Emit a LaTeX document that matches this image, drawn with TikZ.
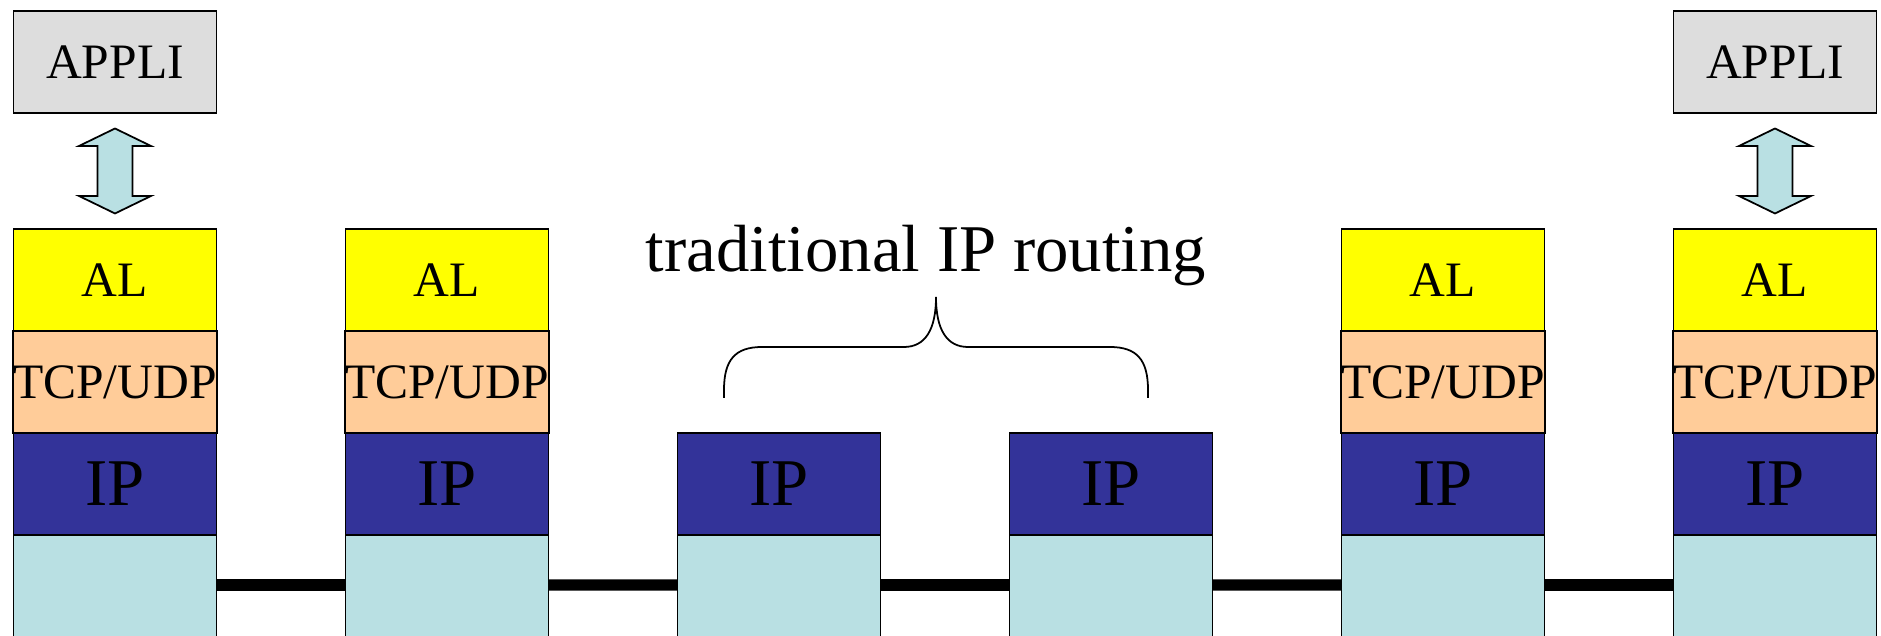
\documentclass[tikz,border=0pt]{standalone}
\usepackage{fontspec}
\setmainfont{Liberation Serif}
\usetikzlibrary{positioning,calc}
\definecolor{applicolor}{RGB}{221,221,221}
\definecolor{alcolor}{RGB}{255,255,0}
\definecolor{tcpcolor}{RGB}{255,204,153}
\definecolor{ipcolor}{RGB}{51,51,153}
\definecolor{phycolor}{RGB}{185,224,227}

\begin{document}
\begin{tikzpicture}[
    node distance=0cm,
    layer/.style={rectangle, draw, line width=0.5pt, minimum width=2.03cm, minimum height=1.02cm, inner sep=0pt, outer sep=0pt, text depth=0pt, font=\fontsize{14.1}{17}\selectfont},
    applibox/.style={layer, fill=applicolor},
    albox/.style={layer, fill=alcolor},
    tcpbox/.style={layer, fill=tcpcolor},
    ipbox/.style={layer, fill=ipcolor, font=\fontsize{19}{23}\selectfont},
    phybox/.style={layer, fill=phycolor, minimum height=1.2cm},
    wire/.style={line width=3.2pt},
    dblarrow/.style={draw, line width=0.5pt, fill=phycolor},
    brace/.style={line width=0.5pt}
]
\useasboundingbox (0,0) rectangle (18.81,-6.36);

% Applications
\node[applibox, anchor=north] (appli1) at (1.15,-0.11) {APPLI};
\node[applibox, anchor=north] (appli6) at (17.75,-0.11) {APPLI};

% End host (left)
\node[albox, anchor=north] (al1) at (1.15,-2.29) {AL};
\node[tcpbox, below=of al1] (tcp1) {TCP/UDP};
\node[ipbox, below=of tcp1] (ip1) {IP};
\node[phybox, below=of ip1] (phy1) {};

% Overlay node
\node[albox, anchor=north] (al2) at (4.47,-2.29) {AL};
\node[tcpbox, below=of al2] (tcp2) {TCP/UDP};
\node[ipbox, below=of tcp2] (ip2) {IP};
\node[phybox, below=of ip2] (phy2) {};

% Routers
\node[ipbox, anchor=north] (ip3) at (7.79,-4.33) {IP};
\node[phybox, below=of ip3] (phy3) {};
\node[ipbox, anchor=north] (ip4) at (11.11,-4.33) {IP};
\node[phybox, below=of ip4] (phy4) {};

% Overlay node
\node[albox, anchor=north] (al5) at (14.43,-2.29) {AL};
\node[tcpbox, below=of al5] (tcp5) {TCP/UDP};
\node[ipbox, below=of tcp5] (ip5) {IP};
\node[phybox, below=of ip5] (phy5) {};

% End host (right)
\node[albox, anchor=north] (al6) at (17.75,-2.29) {AL};
\node[tcpbox, below=of al6] (tcp6) {TCP/UDP};
\node[ipbox, below=of tcp6] (ip6) {IP};
\node[phybox, below=of ip6] (phy6) {};

% Links
\draw[wire] ([yshift=1mm]phy1.east) -- ([yshift=1mm]phy2.west);
\draw[wire] ([yshift=1mm]phy2.east) -- ([yshift=1mm]phy3.west);
\draw[wire] ([yshift=1mm]phy3.east) -- ([yshift=1mm]phy4.west);
\draw[wire] ([yshift=1mm]phy4.east) -- ([yshift=1mm]phy5.west);
\draw[wire] ([yshift=1mm]phy5.east) -- ([yshift=1mm]phy6.west);

% Block arrows APPLI <-> AL
\coordinate (mid1) at ($(appli1.south)!0.5!(al1.north)$);
\coordinate (mid6) at ($(appli6.south)!0.5!(al6.north)$);
\draw[dblarrow] (mid1) ++(0,0.425) -- ++(0.36,-0.175) -- ++(-0.185,0) -- ++(0,-0.5) -- ++(0.185,0) -- ++(-0.36,-0.175) -- ++(-0.36,0.175) -- ++(0.185,0) -- ++(0,0.5) -- ++(-0.185,0) -- cycle;
\draw[dblarrow] (mid6) ++(0,0.425) -- ++(0.36,-0.175) -- ++(-0.185,0) -- ++(0,-0.5) -- ++(0.185,0) -- ++(-0.36,-0.175) -- ++(-0.36,0.175) -- ++(0.185,0) -- ++(0,0.5) -- ++(-0.185,0) -- cycle;

% Brace and label
\draw[brace] (7.24,-3.98) -- (7.24,-3.90) .. controls (7.24,-3.60) and (7.35,-3.47) .. (7.62,-3.47) -- (9.04,-3.47) .. controls (9.25,-3.47) and (9.36,-3.30) .. (9.36,-2.97) .. controls (9.36,-3.30) and (9.47,-3.47) .. (9.68,-3.47) -- (11.10,-3.47) .. controls (11.37,-3.47) and (11.48,-3.60) .. (11.48,-3.90) -- (11.48,-3.98);
\node[font=\fontsize{19}{23}\selectfont, anchor=base] (routing) at (9.26,-2.717) {traditional IP routing};

\end{tikzpicture}
\end{document}
